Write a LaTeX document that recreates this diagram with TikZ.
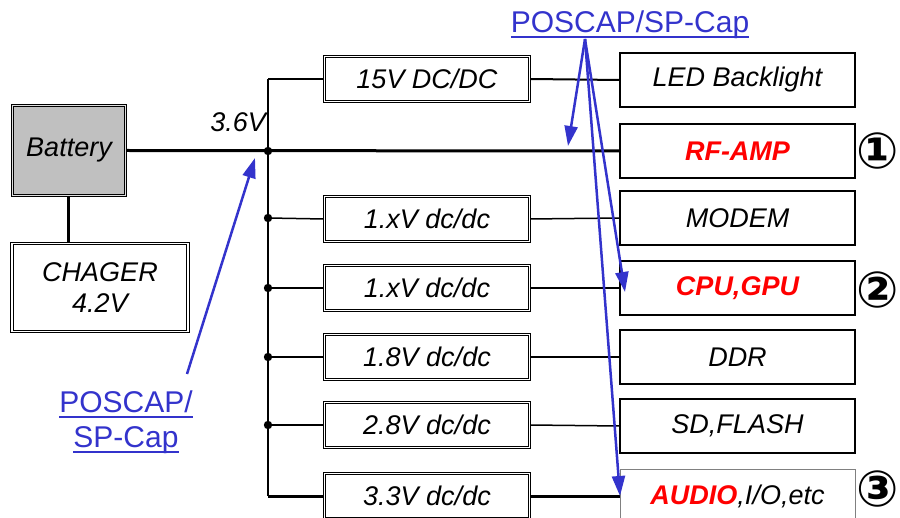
\documentclass[tikz,border=0pt]{standalone}
\usepackage{fontspec}
\setmainfont{Liberation Sans}
\newfontfamily\circfont{DejaVu Sans}
\usetikzlibrary{arrows.meta}
\definecolor{capblue}{RGB}{51,51,204}
\definecolor{batgray}{RGB}{192,192,192}
\newcommand\myul[1]{\setbox0\hbox{#1}\rlap{\rule[-5pt]{\wd0}{1.8pt}}\box0}
\begin{document}
\begin{tikzpicture}[x=1pt,y=-1pt,
  txt/.style={font=\itshape\fontsize{27}{31}\selectfont},
  dbl/.style={draw, line width=1.1pt, double=white, double distance=1.6pt, inner sep=0pt, txt},
  conv/.style={dbl, fill=white, minimum width=205pt, minimum height=45pt},
  load/.style={draw, line width=1.3pt, fill=white, minimum width=235pt, minimum height=54pt, inner sep=0pt, txt},
  thin/.style={line width=1.5pt},
  thick/.style={line width=3pt},
  capl/.style={text=capblue, font=\fontsize{30}{35}\selectfont},
  caparr/.style={draw=capblue, line width=2.5pt, -{Triangle[length=20pt,width=13pt]}},
  num/.style={font=\circfont\bfseries\fontsize{50}{50}\selectfont, inner sep=0pt}]
\useasboundingbox (0,0) rectangle (900,518);
\clip (0,0) rectangle (900,518);

% battery and charger
\node[dbl, double=gray!25, fill=batgray, minimum width=113pt, minimum height=90pt] (bat) at (69,150.5) {Battery};
\node[dbl, fill=white, minimum width=176pt, minimum height=88pt, align=center] (chg) at (100,287.5) {CHAGER\\4.2V};
\draw[thick] (bat.south -| 68,0) -- (chg.north -| 68,0);

% bus coordinates
\coordinate (b0) at (268,79);
\coordinate (b1) at (268,151);
\coordinate (b2) at (268,218);
\coordinate (b3) at (268,288);
\coordinate (b4) at (268,357);
\coordinate (b5) at (268,425);
\coordinate (b6) at (268,496);

% converters
\node[conv] (c0) at (427,79) {15V DC/DC};
\node[conv] (c2) at (427,219) {1.xV dc/dc};
\node[conv] (c3) at (427,288) {1.xV dc/dc};
\node[conv] (c4) at (427,357) {1.8V dc/dc};
\node[conv] (c5) at (427,425) {2.8V dc/dc};
\node[conv] (c6) at (427,496) {3.3V dc/dc};

% loads
\node[load] (l0) at (737.5,80) {LED Backlight};
\node[load] (l1) at (737.5,151) {\textcolor{red}{\bfseries RF-AMP}};
\node[load] (l2) at (737.5,218) {MODEM};
\node[load] (l3) at (737.5,288) {\textcolor{red}{\bfseries CPU,GPU}};
\node[load] (l4) at (737.5,357) {DDR};
\node[load] (l5) at (737.5,426) {SD,FLASH};
\node[load, draw=gray, line width=0.8pt] (l6) at (737.5,496) {\textcolor{red}{\bfseries AUDIO},I/O,etc};

% wiring
\draw[line width=2.2pt] (b0) -- (b6);
\draw[line width=2pt] (b0) -- (c0.west);
\draw[thick] (bat.east) -- (l1.west);
\draw[thin] (b2) -- (c2.west);
\draw[thin] (b3) -- (c3.west);
\draw[thin] (b4) -- (c4.west);
\draw[thin] (b5) -- (c5.west);
\draw[thick] (b6) -- (c6.west);
\draw[line width=2pt] (c0.east) -- (l0.west);
\draw[thin] (c2.east) -- (l2.west);
\draw[thin] (c3.east) -- (l3.west);
\draw[thin] (c4.east) -- (l4.west);
\draw[thin] (c5.east) -- (l5.west);
\draw[thick] (c6.east) -- (l6.west);
\foreach \b in {b1,b2,b3,b4,b5} \fill (\b) circle (4.2pt);

\node[txt, anchor=base east, inner sep=0pt] (v36) at (266,132) {3.6V};

% circled numbers
\node[num] (n1) at (878,151) {①};
\node[num] (n2) at (878,290) {②};
\node[num] (n3) at (878,489) {③};

% capacitor labels and arrows
\node[capl, anchor=base, inner sep=0pt] (captop) at (630,33) {\myul{POSCAP/SP-Cap}};
\node[capl, anchor=base, inner sep=0pt, align=center] (capleft) at (126,448) {\myul{POSCAP/}\\\myul{SP-Cap}};
\coordinate (ct) at (585,39);
\coordinate (cl) at (187,374);
\coordinate (t1) at (568,146);
\coordinate (t2) at (625,292);
\coordinate (t3) at (620,496);
\coordinate (t4) at (255,158);
\draw[caparr] (ct) -- (t1);
\draw[caparr] (ct) -- (t2);
\draw[caparr] (ct) -- (t3);
\draw[caparr] (cl) -- (t4);
\end{tikzpicture}
\end{document}
